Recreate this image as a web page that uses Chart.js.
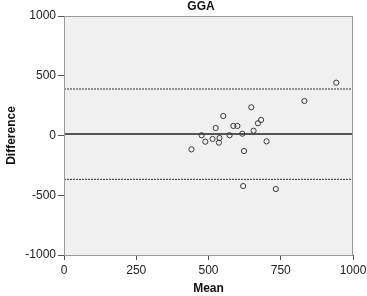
<!DOCTYPE html>
<html>
<head>
<meta charset="utf-8">
<script src="https://cdn.jsdelivr.net/npm/chart.js@4.4.0/dist/chart.umd.min.js"></script>
<style>
  html, body { margin: 0; padding: 0; background: #fff; }
  #wrap { width: 367px; height: 296px; }
</style>
</head>
<body>
<div id="wrap"><canvas id="myChart" width="367" height="296"></canvas></div>
<script>
// Bland-Altman points
let meanVals = [942, 832, 648, 551, 525, 586, 600, 682, 671, 656, 476, 573, 617, 489, 514, 538, 536, 701, 441, 623, 620, 733];
let diffVals = [442, 289, 236, 163, 63, 80, 80, 130, 102, 40, 2, 2, 15, -52, -29, -21, -60, -49, -116, -130, -423, -448];

let meanDiff = 13;
let upperLimit = 389;
let lowerLimit = -367;

let xTicks = [0, 250, 500, 750, 1000];
let yTicks = [-1000, -500, 0, 500, 1000];

let points = [];
for (let i = 0; i < meanVals.length; i++) {
    points.push({ x: meanVals[i], y: diffVals[i] });
}

const fontFam = '"Liberation Sans", Arial, sans-serif';

// gray plot background, frame and the title above it
const frame = {
    id: 'frame',
    beforeDraw(chart) {
        const a = chart.chartArea, c = chart.ctx;
        c.save();
        c.fillStyle = '#f0f0f0';
        c.fillRect(a.left, a.top, a.right - a.left, a.bottom - a.top);
        c.restore();
    },
    afterDraw(chart) {
        const a = chart.chartArea, c = chart.ctx;
        c.save();
        c.strokeStyle = '#9a9a9a';
        c.lineWidth = 1;
        c.strokeRect(a.left + 0.5, a.top + 0.5, a.right - a.left - 1, a.bottom - a.top);
        c.fillStyle = '#111';
        c.font = 'bold 12px ' + fontFam;
        c.textAlign = 'center';
        c.textBaseline = 'middle';
        c.fillText('GGA', 201, 7);
        c.restore();
    }
};

var ctx = document.getElementById('myChart').getContext('2d');
var chart = new Chart(ctx, {
    type: 'scatter',
    data: {
        datasets: [{
            label: 'points',
            data: points,
            pointStyle: 'circle',
            pointRadius: 2.6,
            pointBorderWidth: 1,
            pointBorderColor: '#3a3a3a',
            pointBackgroundColor: 'rgba(0,0,0,0)',
            order: 0
        },
        {
            type: 'line',
            label: 'mean',
            data: [{ x: xTicks[0], y: meanDiff }, { x: xTicks[4], y: meanDiff }],
            borderColor: '#555',
            borderWidth: 2,
            pointRadius: 0,
            order: 1
        },
        {
            type: 'line',
            label: 'upper',
            data: [{ x: xTicks[0], y: upperLimit }, { x: xTicks[4], y: upperLimit }],
            borderColor: '#333',
            borderWidth: 1,
            borderDash: [2, 1],
            pointRadius: 0,
            order: 1
        },
        {
            type: 'line',
            label: 'lower',
            data: [{ x: xTicks[0], y: lowerLimit }, { x: xTicks[4], y: lowerLimit }],
            borderColor: '#333',
            borderWidth: 1,
            borderDash: [2, 1],
            pointRadius: 0,
            order: 1
        }]
    },
    options: {
        responsive: false,
        animation: false,
        layout: { padding: { top: 16, right: 14, left: 4, bottom: 0 } },
        plugins: {
            legend: { display: false },
            tooltip: { enabled: false }
        },
        scales: {
            x: {
                type: 'linear',
                min: 0,
                max: 1000,
                afterBuildTicks: (s) => { s.ticks = xTicks.map(v => ({ value: v })); },
                afterFit: (s) => { s.height = 41; s.paddingRight = 0; s.paddingLeft = 0; },
                grid: { drawOnChartArea: false, drawTicks: true, tickLength: 5, color: '#555' },
                border: { display: false },
                ticks: { color: '#222', font: { family: fontFam, size: 12 }, padding: 3, maxRotation: 0, callback: (v) => String(v) },
                title: { display: true, text: 'Mean', color: '#111', font: { family: fontFam, size: 12, weight: 'bold' }, padding: { top: 1, bottom: 0 } }
            },
            y: {
                type: 'linear',
                min: -1000,
                max: 1000,
                afterBuildTicks: (s) => { s.ticks = yTicks.map(v => ({ value: v })); },
                afterFit: (s) => { s.width = 60; },
                grid: { drawOnChartArea: false, drawTicks: true, tickLength: 6, color: '#555' },
                border: { display: false },
                ticks: { color: '#222', font: { family: fontFam, size: 12 }, padding: 2, callback: (v) => String(v) },
                title: { display: true, text: 'Difference', color: '#111', font: { family: fontFam, size: 12, weight: 'bold' }, padding: { top: 0, bottom: 0 } }
            }
        }
    },
    plugins: [frame]
});
</script>
</body>
</html>
